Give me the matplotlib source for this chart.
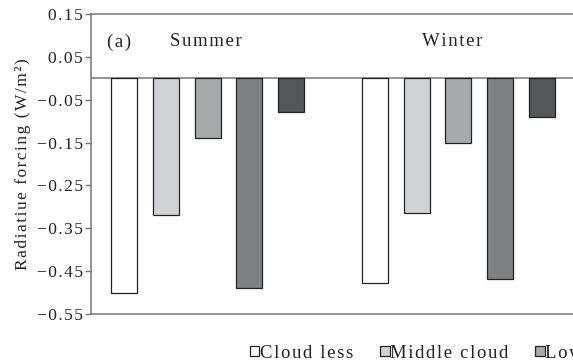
import matplotlib.pyplot as plt
import numpy as np

plt.rcParams['font.family'] = ['Liberation Serif', 'DejaVu Serif']

seasons = ['Summer', 'Winter']
cloud_types = ['Cloud less', 'Middle cloud', 'Low cloud', 'High cloud', 'Multilayer cloud']
summer = [-0.50, -0.32, -0.14, -0.49, -0.079]
winter = [-0.477, -0.315, -0.15, -0.468, -0.09]
yticks = [0.15, 0.05, -0.05, -0.15, -0.25, -0.35, -0.45, -0.55]
ytick_labels = ['0.15', '0.05', '\u22120.05', '\u22120.15', '\u22120.25',
                '\u22120.35', '\u22120.45', '\u22120.55']

colors = ['#ffffff', '#d1d2d4', '#a8a9ab', '#7f8083', '#55565a']
ink = '#222222'


def spaced(s):
    # loose letter spacing, as in the printed figure
    return '\u200a'.join(s)


fig = plt.figure(figsize=(5.73, 3.63), dpi=100)
ax = fig.add_axes([91/573, 1 - 314/363, (575 - 91)/573, 300/363])

centers = np.array([0, 6])
offsets = np.arange(5) - 2
for i, name in enumerate(cloud_types):
    vals = [summer[i], winter[i]]
    ax.bar(centers + offsets[i], vals, width=0.62, color=colors[i],
           edgecolor=ink, linewidth=0.9, label=spaced(name), zorder=3)

ax.axhline(0, color='#777777', lw=1.1, zorder=2)
ax.set_xlim(-2.79, 8.79)
ax.set_ylim(-0.55, 0.15)
ax.set_yticks(yticks)
ax.set_yticklabels([spaced(t) for t in ytick_labels])
ax.set_xticks([])
ax.tick_params(axis='y', direction='out', length=4, width=1, color='#777777',
               labelsize=12.5, pad=2, labelcolor=ink)
for s in ax.spines.values():
    s.set_color('#777777')
    s.set_linewidth(1.1)

ax.set_ylabel(spaced('Radiatiue forcing (W/m²)'), fontsize=12.5, color=ink, labelpad=4)

ax.text(-2.4, 0.085, spaced('(a)'), fontsize=13.5, color=ink, va='center')
ax.text(centers[0] - 0.05, 0.085, spaced(seasons[0]), fontsize=13.5, color=ink,
        ha='center', va='center')
ax.text(centers[1] - 0.15, 0.085, spaced(seasons[1]), fontsize=13.5, color=ink,
        ha='center', va='center')

fig.legend(loc='center left', bbox_to_anchor=(250/573, 1 - 353/363), ncol=5,
           frameon=False, fontsize=13.5, handlelength=0.5, handleheight=0.5,
           handletextpad=0.02, columnspacing=1.45, borderpad=0, borderaxespad=0,
           labelcolor=ink)

fig.savefig('out.png', dpi=100)
